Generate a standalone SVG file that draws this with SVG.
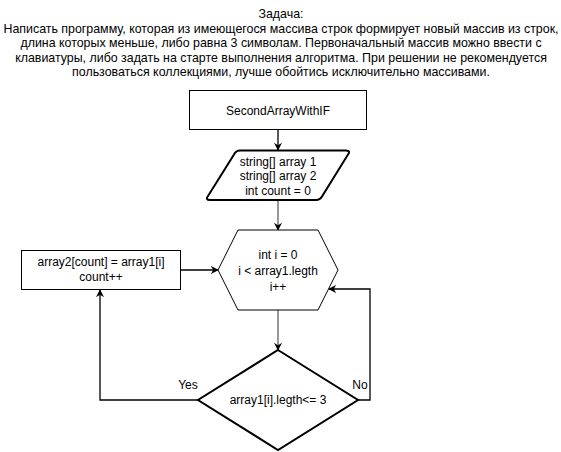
<svg xmlns="http://www.w3.org/2000/svg" width="561" height="452" viewBox="0 0 561 452">
<defs>
<marker id="arr" viewBox="0 0 10 10" refX="9" refY="5" markerWidth="8" markerHeight="8" markerUnits="userSpaceOnUse" orient="auto">
<path d="M0,0 L10,5 L0,10 L3,5 Z" fill="#000"/>
</marker>
<style>
text{font-family:"Liberation Sans",Arial,sans-serif;font-size:12px;fill:#000;text-anchor:middle;dominant-baseline:central}
#title text{font-size:12.4px}
.shape{fill:#fff;stroke:#000;stroke-width:1}
.thick{fill:#fff;stroke:#000;stroke-width:2}
.edge{fill:none;stroke:#000;stroke-width:1.3}
.gray{fill:none;stroke:#777;stroke-width:1.5}
</style>
</defs>
<rect width="561" height="452" fill="#fff"/>
<g id="title">
<text x="281" y="14">Задача:</text>
<text x="281" y="28.5">Написать программу, которая из имеющегося массива строк формирует новый массив из строк,</text>
<text x="281" y="43">длина которых меньше, либо равна 3 символам. Первоначальный массив можно ввести с</text>
<text x="281" y="57.5">клавиатуры, либо задать на старте выполнения алгоритма. При решении не рекомендуется</text>
<text x="281" y="72">пользоваться коллекциями, лучше обойтись исключительно массивами.</text>
</g>
<g id="connectors">
<line class="edge" x1="278" y1="130" x2="278" y2="150" marker-end="url(#arr)" stroke-width="2"/>
<line class="gray" x1="278" y1="201" x2="278" y2="230" marker-end="url(#arr)"/>
<line class="gray" x1="278" y1="310" x2="278" y2="350" marker-end="url(#arr)"/>
<line class="edge" x1="181" y1="270" x2="218" y2="270" marker-end="url(#arr)"/>
<polyline class="edge" points="198,400 100,400 100,290" marker-end="url(#arr)"/>
<polyline class="edge" points="358,400 370,400 370,289 329,289" marker-end="url(#arr)"/>
<text x="188" y="385">Yes</text>
<text x="360" y="385">No</text>
</g>
<g id="start">
<rect class="shape" x="189.5" y="90.5" width="177" height="39"/>
<text x="278" y="111">SecondArrayWithIF</text>
</g>
<g id="vars">
<path class="thick" d="M240,150.5 L346,150.5 Q351,150.5 348,154.5 L322,196.5 Q320,200 316,200 L210,200 Q205,200 208,196 L234,154.5 Q236,150.5 240,150.5 Z" stroke-width="1.6"/>
<text x="278" y="162">string[] array 1</text>
<text x="278" y="176">string[] array 2</text>
<text x="278" y="191">int count = 0</text>
</g>
<g id="loop">
<polygon class="shape" points="238,230 318,230 338,270 318,310 238,310 218,270"/>
<text x="278" y="255">int i = 0</text>
<text x="278" y="271">i &lt; array1.legth</text>
<text x="278" y="287">i++</text>
</g>
<g id="assign">
<rect class="shape" x="21.5" y="250.5" width="159" height="39"/>
<text x="101" y="262">array2[count] = array1[i]</text>
<text x="101" y="277">count++</text>
</g>
<g id="cond">
<polygon class="thick" points="278,350 358,400 278,450 198,400"/>
<text x="278" y="400">array1[i].legth&lt;= 3</text>
</g>
</svg>
